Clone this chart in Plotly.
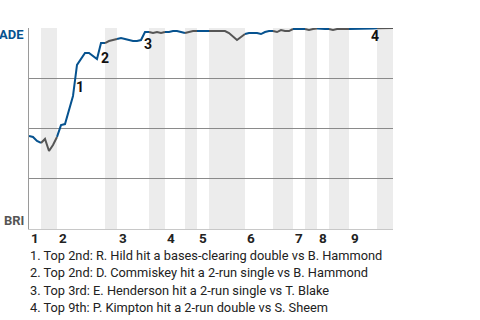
import plotly.graph_objects as go

# Plate-appearance counts per half inning (T1, B1, T2, B2, ... T9, B9)
half_counts = [3, 4, 12, 3, 8, 4, 5, 3, 3, 9, 7, 5, 3, 3, 3, 5, 7, 4]

# ADE win probability after each plate appearance (index 0 = start of game)
win_prob = [
    0.463, 0.458, 0.438, 0.428, 0.448, 0.388, 0.418, 0.458, 0.517, 0.522,
    0.587, 0.662, 0.816, 0.846, 0.876, 0.876, 0.861, 0.846, 0.925, 0.925,
    0.935, 0.940, 0.945, 0.950, 0.945, 0.940, 0.935, 0.935, 0.940, 0.980,
    0.980, 0.975, 0.980, 0.975, 0.980, 0.980, 0.985, 0.985, 0.980, 0.975,
    0.980, 0.985, 0.985, 0.985, 0.985, 0.985, 0.985, 0.985, 0.985, 0.985,
    0.975, 0.955, 0.940, 0.955, 0.970, 0.975, 0.975, 0.975, 0.970, 0.980,
    0.985, 0.985, 0.980, 0.990, 0.985, 0.985, 0.995, 0.995, 0.995, 0.995,
    0.990, 0.995, 0.9975, 0.995, 0.995, 0.995, 0.990, 0.995, 0.995, 0.995,
    0.995, 0.995, 0.995, 0.995, 0.995, 0.995, 0.998, 0.999, 1.0, 1.0,
    1.0, 1.0,
]

inning_labels = ["1", "2", "3", "4", "5", "6", "7", "8", "9"]

# Key events: (plate appearance index, label, x shift px, y shift px)
events = [(12, "1", 3, -22), (18, "2", 4, -15), (29, "3", 3, -12), (86, "4", 2, -8)]

notes = [
    "1. Top 2nd: R. Hild hit a bases-clearing double vs B. Hammond",
    "2. Top 2nd: D. Commiskey hit a 2-run single vs B. Hammond",
    "3. Top 3rd: E. Henderson hit a 2-run single vs T. Blake",
    "4. Top 9th: P. Kimpton hit a 2-run double vs S. Sheem",
]

BLUE = "#06528f"
GRAY = "#555555"
BAND = "#ececec"

bounds = [0]
for c in half_counts:
    bounds.append(bounds[-1] + c)
total = bounds[-1]

fig = go.Figure()
shapes = []
for i in range(len(half_counts)):
    a, b = bounds[i], bounds[i + 1]
    top = i % 2 == 0
    xs = list(range(a, b + 1))
    ys = win_prob[a:b + 1]
    fig.add_trace(go.Scatter(x=xs, y=ys, mode="lines",
                             line=dict(color=BLUE if top else GRAY, width=2),
                             hoverinfo="skip", showlegend=False))
    if not top:
        shapes.append(dict(type="rect", xref="x", yref="paper", x0=a, x1=b,
                           y0=0, y1=1, fillcolor=BAND, line=dict(width=0),
                           layer="below"))

annotations = []
for k, lab in enumerate(inning_labels):
    annotations.append(dict(x=bounds[2 * k], y=0, xref="x", yref="paper",
                            text="<b>%s</b>" % lab, showarrow=False,
                            xanchor="left", yanchor="middle", yshift=-9,
                            font=dict(family="Roboto", size=13.5, color="#222")))
for idx, lab, dx, dy in events:
    annotations.append(dict(x=idx, y=win_prob[idx], xref="x", yref="y",
                            text="<b>%s</b>" % lab, showarrow=False,
                            xanchor="center", yanchor="middle",
                            xshift=dx, yshift=dy,
                            font=dict(family="Roboto", size=14, color="#111")))
annotations.append(dict(x=0, y=1, xref="paper", yref="paper", text="<b>ADE</b>",
                        showarrow=False, xanchor="right", yanchor="middle",
                        xshift=-3, yshift=-6,
                        font=dict(family="Roboto", size=13, color=BLUE)))
annotations.append(dict(x=0, y=0, xref="paper", yref="paper", text="<b>BRI</b>",
                        showarrow=False, xanchor="right", yanchor="middle",
                        xshift=-3, yshift=9,
                        font=dict(family="Roboto", size=13, color=GRAY)))
for j, note in enumerate(notes):
    annotations.append(dict(x=0, y=0, xref="paper", yref="paper", text=note,
                            showarrow=False, xanchor="left", yanchor="middle",
                            xshift=-1, yshift=-26 - 17.5 * j,
                            font=dict(family="Roboto", size=12.8, color="#222")))

fig.update_layout(
    width=480, height=320,
    margin=dict(l=29, r=87, t=28, b=91),
    paper_bgcolor="white", plot_bgcolor="white",
    shapes=shapes, annotations=annotations,
    xaxis=dict(range=[0, total], showgrid=False, zeroline=False,
               showticklabels=False, showline=True, linecolor="#c8c8c8",
               linewidth=1, ticks=""),
    yaxis=dict(range=[0, 1], tickvals=[0.25, 0.5, 0.75, 1.0],
               showticklabels=False, gridcolor="#8a8a8a", gridwidth=1,
               zeroline=False, showline=True, linecolor="#9a9a9a",
               linewidth=1, ticks=""),
)

fig.write_html("out.html")
